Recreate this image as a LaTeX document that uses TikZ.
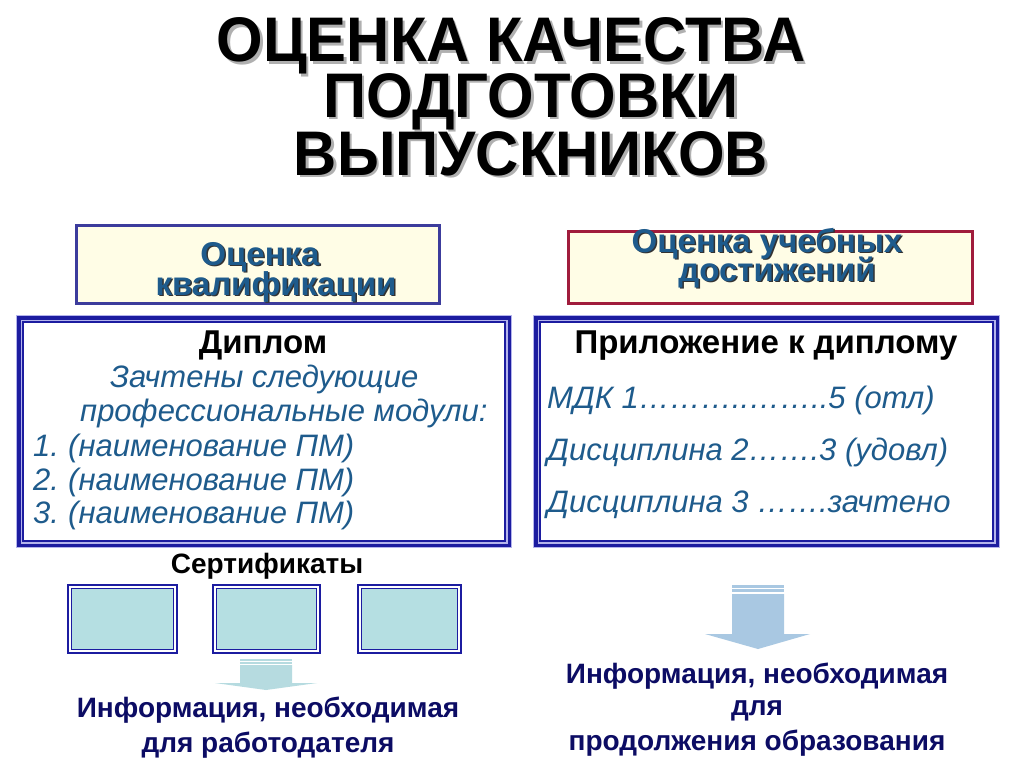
\documentclass[tikz,border=0pt]{standalone}
\usepackage{fontspec}
\usepackage{graphicx}
\setmainfont{Liberation Sans}
\definecolor{frameblue}{HTML}{1C1CA0}
\definecolor{lav}{HTML}{B4B4EC}
\definecolor{txtblue}{HTML}{1E5B8C}
\definecolor{navy}{HTML}{0C0C64}
\definecolor{cream}{HTML}{FFFDE6}
\definecolor{boxblue}{HTML}{3C3C9C}
\definecolor{boxred}{HTML}{A01C3C}
\definecolor{teal}{HTML}{B5DFE2}
\definecolor{arrL}{HTML}{B6DBE0}
\definecolor{arrR}{HTML}{A9C8E2}
\definecolor{shadowgray}{HTML}{B0B0B0}
\definecolor{hdrshadow}{HTML}{333333}
% text with a drop shadow, in one box: #1 shadow colour, #2 offset, #3 text
\newcommand\myshadowtext[3]{\leavevmode\rlap{\kern#2\raisebox{-#2}{\textcolor{#1}{#3}}}#3}
\tikzset{
  ttl/.style={font=\fontsize{63}{63}\selectfont\bfseries, inner sep=0, anchor=base},
  hdr/.style={font=\fontsize{33}{36}\selectfont\bfseries, inner sep=0, anchor=base, text=txtblue},
  bhead/.style={font=\fontsize{33}{36}\selectfont\bfseries, inner sep=0, anchor=base, text=black},
  itl/.style={font=\fontsize{31}{34}\selectfont\itshape, inner sep=0, anchor=base west, text=txtblue},
  cert/.style={font=\fontsize{28}{30}\selectfont\bfseries, inner sep=0, anchor=base, text=black},
  info/.style={font=\fontsize{28}{32}\selectfont\bfseries, inner sep=0, anchor=base, text=navy},
  certbox/.style={draw=frameblue, line width=2, fill=white},
}
\begin{document}
\begin{tikzpicture}[x=1pt,y=-1pt]
\useasboundingbox[fill=white] (0,0) rectangle (1024,768);

% ---- title with shadow
\node[ttl] (t1) at (511,62) {\scalebox{0.95}[1]{\myshadowtext{shadowgray}{2.5pt}{ОЦЕНКА КАЧЕСТВА}}};
\node[ttl] (t2) at (531,117) {\scalebox{0.95}[1]{\myshadowtext{shadowgray}{2.5pt}{ПОДГОТОВКИ}}};
\node[ttl] (t3) at (531,175) {\scalebox{0.95}[1]{\myshadowtext{shadowgray}{2.5pt}{ВЫПУСКНИКОВ}}};

% ---- header boxes
\draw[boxblue, line width=3.5, fill=cream] (76.5,225.5) rectangle (439.5,303.5);
\node[hdr] (h1) at (260,265) {\myshadowtext{hdrshadow}{1.5pt}{Оценка}};
\node[hdr] (h2) at (276,295) {\myshadowtext{hdrshadow}{1.5pt}{квалификации}};

\draw[boxred, line width=3.5, fill=cream] (568.5,231.5) rectangle (972.5,303.5);
\node[hdr] (h3) at (767,252) {\myshadowtext{hdrshadow}{1.5pt}{Оценка учебных}};
\node[hdr] (h4) at (777,281) {\myshadowtext{hdrshadow}{1.5pt}{достижений}};

% ---- left frame
\draw[lav, line width=8] (20,319) rectangle (508,544);
\draw[frameblue, line width=3.5] (18.75,317.75) rectangle (509.25,545.25);
\draw[frameblue, line width=1.8] (23,322) rectangle (505,541);
\fill[white] (23.9,322.9) rectangle (504.1,540.1);

\node[bhead] (dip) at (263,353) {Диплом};
\node[itl] (z1) at (110,387) {Зачтены следующие};
\node[itl] (z2) at (80,421) {профессиональные модули:};
\node[itl] (n1) at (33,456) {1.};
\node[itl] (p1) at (68,456) {(наименование ПМ)};
\node[itl] (n2) at (33,490) {2.};
\node[itl] (p2) at (68,490) {(наименование ПМ)};
\node[itl] (n3) at (33,523) {3.};
\node[itl] (p3) at (68,523) {(наименование ПМ)};

% ---- right frame
\draw[lav, line width=8] (537,319) rectangle (996,544);
\draw[frameblue, line width=3.5] (535.75,317.75) rectangle (997.25,545.25);
\draw[frameblue, line width=1.8] (540,322) rectangle (993,541);
\fill[white] (540.9,322.9) rectangle (992.1,540.1);

\node[bhead] (pril) at (766,353) {Приложение к диплому};
\node[itl] (m1) at (547,408) {МДК 1………..……..5 (отл)};
\node[itl] (m2) at (547,460) {Дисциплина 2…….3 (удовл)};
\node[itl] (m3) at (547,512) {Дисциплина 3 …….зачтено};

% ---- certificates
\node[cert] (cert) at (267,573) {Сертификаты};
\foreach \xa/\xb/\nm in {67/178/c1, 212/321/c2, 357/462/c3}{
  \draw[certbox] (\xa+1,585) rectangle (\xb-1,653);
  \draw[frameblue, line width=1.5, fill=teal] (\xa+4.5,588.5) rectangle (\xb-4.5,649.5);
  \coordinate (\nm) at ({(\xa+\xb)/2},619);
}

% ---- left arrow
\fill[arrL] (240,659) rectangle (292,660.5);
\fill[arrL] (240,662) rectangle (292,663.5);
\fill[arrL] (240,665) -- (292,665) -- (292,683) -- (317,683) -- (266,690) -- (215,683) -- (240,683) -- cycle;

\node[info] (il1) at (268,717) {Информация, необходимая};
\node[info] (il2) at (268,752) {для работодателя};

% ---- right arrow
\fill[arrR] (732,585) rectangle (784,587.5);
\fill[arrR] (732,589) rectangle (784,592);
\fill[arrR] (732,594) -- (784,594) -- (784,634) -- (810,634) -- (758,649) -- (705,634) -- (732,634) -- cycle;

\node[info] (ir1) at (757,683) {Информация, необходимая};
\node[info] (ir2) at (757,715) {для};
\node[info] (ir3) at (757,750) {продолжения образования};
\end{tikzpicture}
\end{document}
